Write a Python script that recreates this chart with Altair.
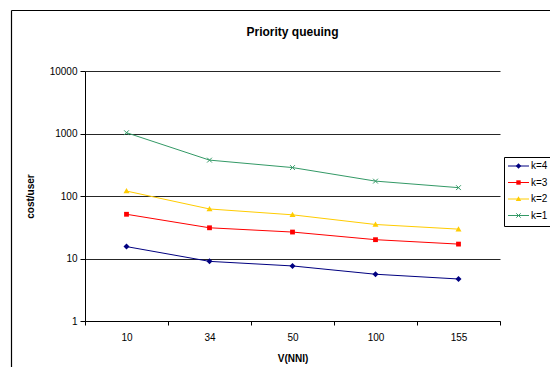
import altair as alt
import pandas as pd

# ---- data ----
V = ["10", "34", "50", "100", "155"]
K = ["k=4", "k=3", "k=2", "k=1"]
cost_k4 = [15.5, 9.0, 7.6, 5.6, 4.7]
cost_k3 = [51, 31, 26.5, 20, 17]
cost_k2 = [120, 62, 50, 35, 29.5]
cost_k1 = [1030, 375, 285, 173, 136]
Y_TICKS = [1, 10, 100, 1000, 10000]

COLORS = ["#000080", "#FF0000", "#FFCC00", "#339966"]
MARKERS = [
    "M0,-1L1,0L0,1L-1,0Z",
    "M-0.8,-0.8L0.8,-0.8L0.8,0.8L-0.8,0.8Z",
    "M0,-1L1,0.75L-1,0.75Z",
    "M-0.8,-0.8L0.8,0.8M-0.8,0.8L0.8,-0.8",
]
FILLED = [True, True, True, False]

series = {"k=4": cost_k4, "k=3": cost_k3, "k=2": cost_k2, "k=1": cost_k1}
rows = []
for k in K:
    for v, c in zip(V, series[k]):
        rows.append({"V": v, "k": k, "cost": c})
df = pd.DataFrame(rows)
legend_df = pd.DataFrame({"k": K})

FONT = "Liberation Sans"

x_enc = alt.X(
    "V:O",
    sort=V,
    bandPosition=0.5,
    scale=alt.Scale(type="band", paddingInner=0, paddingOuter=0),
    axis=alt.Axis(
        title="V(NNI)", labelAngle=0, tickBand="extent", tickSize=4,
        labelPadding=7, titlePadding=11, domainColor="black", tickColor="black",
        grid=False,
    ),
)
y_enc = alt.Y(
    "cost:Q",
    scale=alt.Scale(type="log", domain=[1, 10000]),
    axis=alt.Axis(
        title="cost/user", values=Y_TICKS, format="d", tickSize=5,
        labelPadding=3, titlePadding=14, grid=True, gridColor="black",
        gridOpacity=0.85, domainColor="black", tickColor="black",
    ),
)
color_scale = alt.Scale(domain=K, range=COLORS)
color_enc = alt.Color("k:N", scale=color_scale, legend=None)

base = alt.Chart(df)

lines = base.mark_line(strokeWidth=1).encode(x=x_enc, y=y_enc, color=color_enc)

point_layers = []
for k, path, filled in zip(K, MARKERS, FILLED):
    point_layers.append(
        base.transform_filter(alt.datum.k == k)
        .mark_point(filled=filled, size=36, strokeWidth=1, opacity=1, shape=path)
        .encode(x=x_enc, y=y_enc, color=color_enc)
    )

# ---- legend box (Excel-style, drawn from the series names) ----
leg_offset = alt.YOffset("k:N", sort=K, scale=alt.Scale(type="point", domain=K, range=[0, 49.5], padding=0))
leg_base = alt.Chart(legend_df)

leg_box = alt.Chart(pd.DataFrame({"a": [0]})).mark_rect(
    fill="white", stroke="black", strokeWidth=1
).encode(x=alt.value(419.5), x2=alt.value(500), y=alt.value(86.5), y2=alt.value(155.5))

leg_lines = leg_base.mark_rule(strokeWidth=1).encode(
    x=alt.value(423), x2=alt.value(444), y=alt.value(95), yOffset=leg_offset,
    color=color_enc,
)
leg_points = []
for k, path, filled in zip(K, MARKERS, FILLED):
    leg_points.append(
        leg_base.transform_filter(alt.datum.k == k)
        .mark_point(filled=filled, size=30, strokeWidth=1, opacity=1, shape=path)
        .encode(x=alt.value(433.5), y=alt.value(95), yOffset=leg_offset, color=color_enc)
    )
leg_text = leg_base.mark_text(
    align="left", baseline="middle", font=FONT, fontSize=10, color="black"
).encode(x=alt.value(446), y=alt.value(95), yOffset=leg_offset, text="k:N")

frame_left = alt.Chart(pd.DataFrame({"a": [0]})).mark_rule(
    stroke="black", strokeWidth=1.2
).encode(x=alt.value(-73.5), y=alt.value(-60.5), y2=alt.value(296))
frame_top = alt.Chart(pd.DataFrame({"a": [0]})).mark_rule(
    stroke="black", strokeWidth=1.2
).encode(x=alt.value(-73.5), x2=alt.value(466), y=alt.value(-60.5))

chart = alt.layer(
    frame_left, frame_top, lines, *point_layers, leg_box, leg_lines, *leg_points, leg_text
).properties(
    width=415,
    height=250,
    title=alt.Title("Priority queuing", font=FONT, fontSize=12, fontWeight="bold",
                    anchor="middle", frame="group", offset=-29, color="black"),
    autosize=alt.AutoSizeParams(type="none"),
    padding={"left": 77, "top": 63, "right": 50, "bottom": 47},
).configure_view(stroke=None).configure_axis(
    labelFont=FONT, labelFontSize=10, labelColor="black",
    titleFont=FONT, titleFontSize=10, titleFontWeight="bold", titleColor="black",
)

chart.save("out.html", embed_options={"renderer": "svg", "actions": False})
